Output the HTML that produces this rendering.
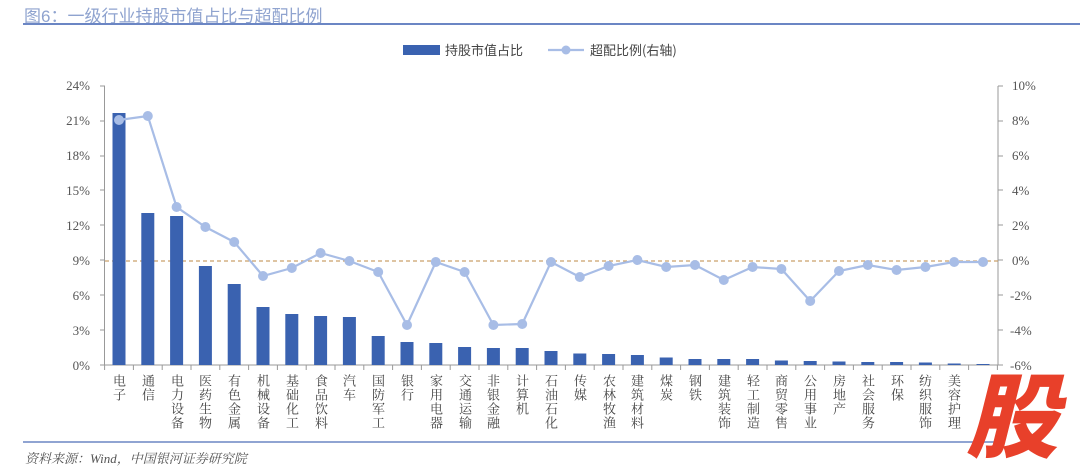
<!DOCTYPE html>
<html><head><meta charset="utf-8"><style>
body{margin:0;width:1080px;height:473px;background:#fff;overflow:hidden;position:relative;font-family:"Liberation Serif","Noto Serif CJK SC",serif}
.t{position:absolute;left:24px;top:2px;font-size:17px;color:#8fa3cf;font-family:"Liberation Sans","Noto Sans CJK SC",sans-serif}
.lab{position:absolute;top:374px;height:80px;width:16px;white-space:nowrap;writing-mode:vertical-rl;font-size:13px;color:#444;line-height:16px;letter-spacing:1px;font-family:"Noto Serif CJK SC",serif}
</style></head><body>
<div class="t">图6：一级行业持股市值占比与超配比例</div>
<svg width="1080" height="473" style="position:absolute;left:0;top:0">
<line x1="23" y1="24" x2="1080" y2="24" stroke="#6b86c4" stroke-width="2"/>
<line x1="23" y1="442" x2="1000" y2="442" stroke="#6b86c4" stroke-width="1.5"/>
<g font-size="13" fill="#555" font-family="Liberation Serif,serif">
<text x="90" y="90" text-anchor="end">24%</text><text x="90" y="125" text-anchor="end">21%</text><text x="90" y="160" text-anchor="end">18%</text><text x="90" y="195" text-anchor="end">15%</text><text x="90" y="230" text-anchor="end">12%</text><text x="90" y="265" text-anchor="end">9%</text><text x="90" y="300" text-anchor="end">6%</text><text x="90" y="335" text-anchor="end">3%</text><text x="90" y="370" text-anchor="end">0%</text>
<text x="1012" y="90">10%</text><text x="1012" y="125">8%</text><text x="1012" y="160">6%</text><text x="1012" y="195">4%</text><text x="1012" y="230">2%</text><text x="1012" y="265">0%</text><text x="1010" y="300">-2%</text><text x="1010" y="335">-4%</text><text x="1010" y="370">-6%</text>
</g>
<g stroke="#999" stroke-width="1" fill="none">
<path d="M104.5 86V365H998V86"/>
<path d="M100 86H105M100 121H105M100 156H105M100 190H105M100 225H105M100 260H105M100 295H105M100 330H105M100 365H105"/>
<path d="M998 86H1003M998 121H1003M998 156H1003M998 190H1003M998 225H1003M998 260H1003M998 295H1003M998 330H1003M998 365H1003"/>
<path d="M104.6 365v5M133.4 365v5M162.2 365v5M191 365v5M219.8 365v5M248.6 365v5M277.4 365v5M306.2 365v5M335 365v5M363.8 365v5M392.6 365v5M421.4 365v5M450.2 365v5M479 365v5M507.8 365v5M536.6 365v5M565.4 365v5M594.2 365v5M623 365v5M651.8 365v5M680.6 365v5M709.4 365v5M738.2 365v5M767 365v5M795.8 365v5M824.6 365v5M853.4 365v5M882.2 365v5M911 365v5M939.8 365v5M968.6 365v5M997.4 365v5"/>
</g>
<line x1="105" y1="261" x2="998" y2="261" stroke="#c9a06a" stroke-width="1.3" stroke-dasharray="4,3"/>
<g fill="#3a62b0">
<rect x="112.5" y="113" width="13" height="252"/><rect x="141.3" y="213" width="13" height="152"/><rect x="170.1" y="216" width="13" height="149"/><rect x="198.9" y="266" width="13" height="99"/><rect x="227.7" y="284" width="13" height="81"/><rect x="256.5" y="307" width="13" height="58"/><rect x="285.3" y="314" width="13" height="51"/><rect x="314.1" y="316" width="13" height="49"/><rect x="342.9" y="317" width="13" height="48"/><rect x="371.7" y="336" width="13" height="29"/><rect x="400.5" y="342" width="13" height="23"/><rect x="429.3" y="343" width="13" height="22"/><rect x="458.1" y="347" width="13" height="18"/><rect x="486.9" y="348" width="13" height="17"/><rect x="515.7" y="348" width="13" height="17"/><rect x="544.5" y="351" width="13" height="14"/><rect x="573.3" y="353.5" width="13" height="11.5"/><rect x="602.1" y="354" width="13" height="11"/><rect x="630.9" y="355" width="13" height="10"/><rect x="659.7" y="357.5" width="13" height="7.5"/><rect x="688.5" y="359" width="13" height="6"/><rect x="717.3" y="359" width="13" height="6"/><rect x="746.1" y="359" width="13" height="6"/><rect x="774.9" y="360.5" width="13" height="4.5"/><rect x="803.7" y="361" width="13" height="4"/><rect x="832.5" y="361.5" width="13" height="3.5"/><rect x="861.3" y="362" width="13" height="3"/><rect x="890.1" y="362" width="13" height="3"/><rect x="918.9" y="362.5" width="13" height="2.5"/><rect x="947.7" y="363.5" width="13" height="1.5"/><rect x="976.5" y="364" width="13" height="1"/>
</g>
<polyline fill="none" stroke="#a8bde6" stroke-width="2.2" points="119,120 147.8,116 176.6,207 205.4,227 234.2,242 263,276 291.8,268 320.6,253 349.4,261 378.2,272 407,325 435.8,262 464.6,272 493.4,325 522.2,324 551,262 579.8,277 608.6,266 637.4,260 666.2,267 695,265 723.8,280 752.6,267 781.4,269 810.2,301 839,271 867.8,265 896.6,270 925.4,267 954.2,262 983,262"/>
<g fill="#a8bde6">
<circle cx="119" cy="120" r="5"/><circle cx="147.8" cy="116" r="5"/><circle cx="176.6" cy="207" r="5"/><circle cx="205.4" cy="227" r="5"/><circle cx="234.2" cy="242" r="5"/><circle cx="263" cy="276" r="5"/><circle cx="291.8" cy="268" r="5"/><circle cx="320.6" cy="253" r="5"/><circle cx="349.4" cy="261" r="5"/><circle cx="378.2" cy="272" r="5"/><circle cx="407" cy="325" r="5"/><circle cx="435.8" cy="262" r="5"/><circle cx="464.6" cy="272" r="5"/><circle cx="493.4" cy="325" r="5"/><circle cx="522.2" cy="324" r="5"/><circle cx="551" cy="262" r="5"/><circle cx="579.8" cy="277" r="5"/><circle cx="608.6" cy="266" r="5"/><circle cx="637.4" cy="260" r="5"/><circle cx="666.2" cy="267" r="5"/><circle cx="695" cy="265" r="5"/><circle cx="723.8" cy="280" r="5"/><circle cx="752.6" cy="267" r="5"/><circle cx="781.4" cy="269" r="5"/><circle cx="810.2" cy="301" r="5"/><circle cx="839" cy="271" r="5"/><circle cx="867.8" cy="265" r="5"/><circle cx="896.6" cy="270" r="5"/><circle cx="925.4" cy="267" r="5"/><circle cx="954.2" cy="262" r="5"/><circle cx="983" cy="262" r="5"/>
</g>
<rect x="403" y="45" width="37" height="10" fill="#3a62b0"/>
<text x="445" y="55" font-size="13" fill="#444" font-family="Noto Sans CJK SC,sans-serif">持股市值占比</text>
<line x1="548" y1="50" x2="584" y2="50" stroke="#a8bde6" stroke-width="2.2"/><circle cx="566" cy="50" r="4.5" fill="#a8bde6"/>
<text x="590" y="55" font-size="13" fill="#444" font-family="Noto Sans CJK SC,sans-serif">超配比例(右轴)</text>
<text x="25" y="463" font-size="13" fill="#555" font-style="italic" font-family="Liberation Serif,Noto Serif CJK SC,serif">资料来源：Wind，中国银河证券研究院</text>
<text x="966" y="450" font-size="92" font-weight="900" fill="#e8402a" font-style="italic" font-family="Noto Sans CJK SC,sans-serif">股</text>
</svg>
<div class="lab" style="left:111px">电子</div><div class="lab" style="left:140px">通信</div><div class="lab" style="left:169px">电力设备</div><div class="lab" style="left:197px">医药生物</div><div class="lab" style="left:226px">有色金属</div><div class="lab" style="left:255px">机械设备</div><div class="lab" style="left:284px">基础化工</div><div class="lab" style="left:313px">食品饮料</div><div class="lab" style="left:341px">汽车</div><div class="lab" style="left:370px">国防军工</div><div class="lab" style="left:399px">银行</div><div class="lab" style="left:428px">家用电器</div><div class="lab" style="left:457px">交通运输</div><div class="lab" style="left:485px">非银金融</div><div class="lab" style="left:514px">计算机</div><div class="lab" style="left:543px">石油石化</div><div class="lab" style="left:572px">传媒</div><div class="lab" style="left:601px">农林牧渔</div><div class="lab" style="left:629px">建筑材料</div><div class="lab" style="left:658px">煤炭</div><div class="lab" style="left:687px">钢铁</div><div class="lab" style="left:716px">建筑装饰</div><div class="lab" style="left:745px">轻工制造</div><div class="lab" style="left:773px">商贸零售</div><div class="lab" style="left:802px">公用事业</div><div class="lab" style="left:831px">房地产</div><div class="lab" style="left:860px">社会服务</div><div class="lab" style="left:889px">环保</div><div class="lab" style="left:917px">纺织服饰</div><div class="lab" style="left:946px">美容护理</div>
</body></html>
